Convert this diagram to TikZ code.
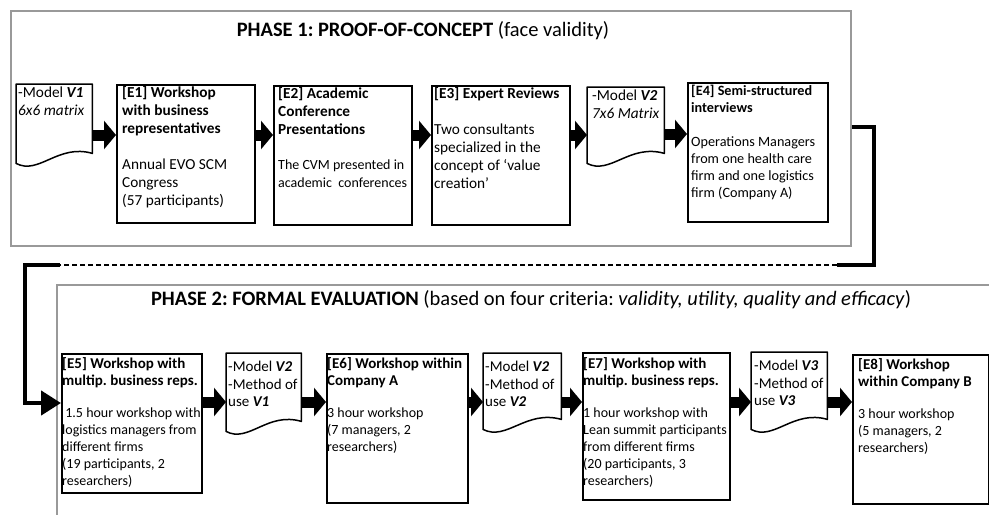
\documentclass[tikz,border=0pt]{standalone}
\usepackage{fontspec}
\setmainfont{Carlito}
\usetikzlibrary{arrows.meta,calc}
\frenchspacing

\tikzset{
  ebox/.style={draw, line width=1.5pt, inner sep=0pt, anchor=north west},
  dbox/.style={inner sep=0pt, anchor=north west},
  docline/.style={line width=1.5pt, line join=round},
  tA/.style={anchor=north west, align=left, inner sep=0pt, font=\fontsize{15.3}{18}\selectfont},
  tC/.style={anchor=north west, align=left, inner sep=0pt, font=\fontsize{14.2}{17}\selectfont},
  tB/.style={anchor=north west, align=left, inner sep=0pt, font=\fontsize{14}{17}\selectfont},
  tD/.style={anchor=north west, align=left, inner sep=0pt, font=\fontsize{15}{17.5}\selectfont},
  barrow/.style={line width=11pt, -{Triangle[length=12pt, width=28pt]}},
  conn/.style={line width=4.5pt, line join=miter},
  dashconn/.style={line width=1.4pt, dashed, dash pattern=on 5pt off 3pt},
  phasebox/.style={draw=black!40, line width=1.5pt},
  title/.style={inner sep=0pt, font=\fontsize{20.5}{24}\selectfont},
}
\newcommand\bhead[1]{{\fontsize{15}{17.5}\selectfont\textbf{#1}}}

\newcommand\docshape[1]{%
  \draw[docline] ($(#1.south west)+(0,-4)$) -- (#1.north west) -- (#1.north east)
    -- ($(#1.south east)+(0,-14)$)
    .. controls ($(#1.south west)!0.55!(#1.south east)+(0,-24)$)
       and ($(#1.south west)!0.30!(#1.south east)+(0,8)$) ..
    ($(#1.south west)+(0,-4)$) -- cycle;}

\begin{document}
\begin{tikzpicture}[x=1pt,y=-1pt]
\useasboundingbox (0,0) rectangle (989,515);
\fill[white] (0,0) rectangle (989,515);

% ---------------- PHASE 1 ----------------
\node[phasebox, inner sep=0pt, anchor=north west, minimum width=840, minimum height=235] (p1) at (10,10) {};
\node[title] (t1) at (423,31) {\textbf{PHASE 1: PROOF-OF-CONCEPT} (face validity)};

\node[dbox, minimum width=76, minimum height=83] (v1) at (16,84) {};
\docshape{v1}
\node[tA] (v1t) at ($(v1.north west)+(2,3)$) {-Model \textbf{\textit{V1}}\\\textit{6x6 matrix}};

\node[ebox, minimum width=138, minimum height=138] (e1) at (116,84) {};
\node[tA] (e1t) at ($(e1.north west)+(6,2)$) {\textbf{[E1] Workshop}\\\textbf{with business}\\\textbf{representatives}\\[18pt]Annual EVO SCM\\Congress\\(57 participants)};

\node[ebox, minimum width=138, minimum height=139] (e2) at (273,85) {};
\node[tA] (e2t) at ($(e2.north west)+(5,2)$) {\textbf{[E2] Academic}\\\textbf{Conference}\\\textbf{Presentations}\\[17pt]{\fontsize{14}{17.5}\selectfont The CVM presented in}\\{\fontsize{14}{17.5}\selectfont academic\ \ conferences}};

\node[ebox, minimum width=138, minimum height=139] (e3) at (431,85) {};
\node[tA] (e3t) at ($(e3.north west)+(3,2)$) {\textbf{[E3] Expert Reviews}\\[18pt]Two consultants\\specialized in the\\concept of ‘value\\creation’};

\node[dbox, minimum width=77, minimum height=80] (v2) at (587,87) {};
\docshape{v2}
\node[tA] (v2t) at ($(v2.north west)+(5,3)$) {-Model \textbf{\textit{V2}}\\\textit{7x6 Matrix}};

\node[ebox, minimum width=140, minimum height=139] (e4) at (687,82) {};
\node[tC] (e4t) at ($(e4.north west)+(4,3)$) {\textbf{[E4] Semi-structured}\\\textbf{interviews}\\[17pt]Operations Managers\\from one health care\\firm and one logistics\\firm (Company A)};

\draw[barrow] (v1.east |- 0,135) -- (e1.west |- 0,135);
\draw[barrow] (e1.east |- 0,135) -- (e2.west |- 0,135);
\draw[barrow] (e2.east |- 0,135) -- (e3.west |- 0,135);
\draw[barrow] (e3.east |- 0,135) -- (v2.west |- 0,135);
\draw[barrow] (v2.east |- 0,134) -- (e4.west |- 0,134);

% ---------------- connector corners ----------------
\coordinate (c1) at (874,127);
\coordinate (c2) at (874,265);
\coordinate (c3) at (837,265);
\coordinate (c4) at (60,265);
\coordinate (c5) at (25,265);
\coordinate (c6) at (25,403);

% ---------------- PHASE 2 ----------------
\draw[phasebox] (989,285) -- (57,285) -- (57,515);
\node[title] (t2) at (531,300) {\textbf{PHASE 2: FORMAL EVALUATION} (based on four criteria: \textit{validity, utility, quality and efficacy})};

\node[ebox, minimum width=140, minimum height=139] (e5) at (61,353) {};
\node[tB] (e5t) at ($(e5.north west)+(1,4)$) {\bhead{[E5] Workshop with}\\\bhead{multip. business reps.}\\[15pt]\ 1.5 hour workshop with\\logistics managers from\\different firms\\(19 participants, 2\\researchers)};

\node[dbox, minimum width=75, minimum height=82] (d1) at (226,353) {};
\docshape{d1}
\node[tD] (d1t) at ($(d1.north west)+(2,8)$) {-Model \textbf{\textit{V2}}\\-Method of\\use \textbf{\textit{V1}}};

\node[ebox, minimum width=141, minimum height=149] (e6) at (326,353) {};
\node[tB] (e6t) at ($(e6.north west)+(1,4)$) {\bhead{[E6] Workshop within}\\\bhead{Company A}\\[15pt]3 hour workshop\\(7 managers, 2\\researchers)};

\node[dbox, minimum width=78, minimum height=80] (d2) at (483,353) {};
\docshape{d2}
\node[tD] (d2t) at ($(d2.north west)+(2,8)$) {-Model \textbf{\textit{V2}}\\-Method of\\use \textbf{\textit{V2}}};

\node[ebox, minimum width=147, minimum height=147] (e7) at (582,352) {};
\node[tB] (e7t) at ($(e7.north west)+(1,5)$) {\bhead{[E7] Workshop with}\\\bhead{multip. business reps.}\\[15pt]1 hour workshop with\\Lean summit participants\\from different firms\\(20 participants, 3\\researchers)};

\node[dbox, minimum width=76, minimum height=81] (d3) at (751,352) {};
\docshape{d3}
\node[tD] (d3t) at ($(d3.north west)+(3,8)$) {-Model \textbf{\textit{V3}}\\-Method of\\use \textbf{\textit{V3}}};

\node[ebox, minimum width=136, minimum height=149] (e8) at (852,354) {};
\node[tB] (e8t) at ($(e8.north west)+(6,4)$) {\bhead{[E8] Workshop}\\\bhead{within Company B}\\[15pt]3 hour workshop\\(5 managers, 2\\researchers)};

\draw[barrow] (e5.east |- 0,402) -- (d1.west |- 0,402);
\draw[barrow] (d1.east |- 0,402) -- (e6.west |- 0,402);
\draw[barrow] (e6.east |- 0,402) -- (d2.west |- 0,402);
\draw[barrow] (d2.east |- 0,402) -- (e7.west |- 0,402);
\draw[barrow] (e7.east |- 0,402) -- (d3.west |- 0,402);
\draw[barrow] (d3.east |- 0,402) -- (e8.west |- 0,402);

% connector drawing
\draw[conn] (p1.east |- c1) -- (c1) -- (c2) -- (c3);
\draw[dashconn] (c3) -- (c4);
\draw[conn, -{Triangle[length=20pt, width=24pt]}] (c4) -- (c5) -- (c6) -- (e5.west |- c6);
\end{tikzpicture}
\end{document}
